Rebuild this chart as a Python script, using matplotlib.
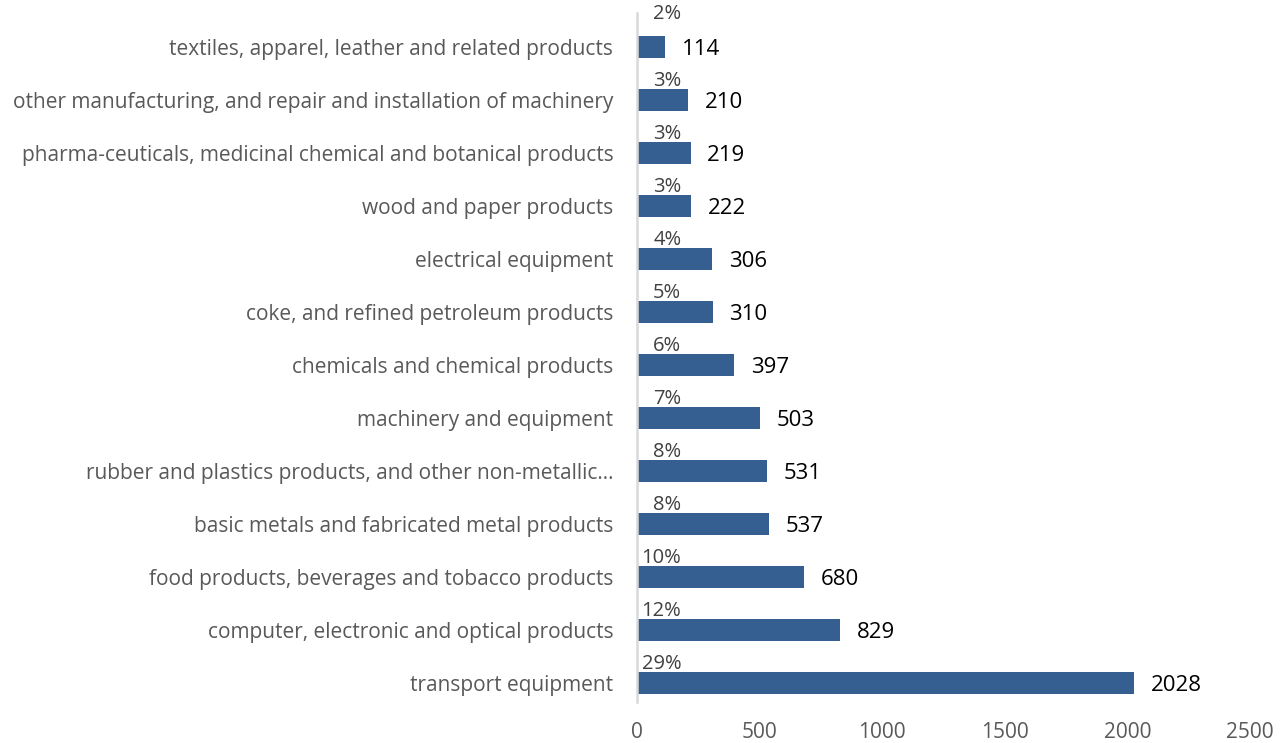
import matplotlib
matplotlib.use("Agg")
import matplotlib.pyplot as plt
from matplotlib import font_manager

categories = [
    "transport equipment",
    "computer, electronic and optical products",
    "food products, beverages and tobacco products",
    "basic metals and fabricated metal products",
    "rubber and plastics products, and other non-metallic\u2026",
    "machinery and equipment",
    "chemicals and chemical products",
    "coke, and refined petroleum products",
    "electrical equipment",
    "wood and paper products",
    "pharma-ceuticals, medicinal chemical and botanical products",
    "other manufacturing, and repair and installation of machinery",
    "textiles, apparel, leather and related products",
]
values = [2028, 829, 680, 537, 531, 503, 397, 310, 306, 222, 219, 210, 114]
shares = ["29%", "12%", "10%", "8%", "8%", "7%", "6%", "5%", "4%", "3%", "3%", "3%", "2%"]
xticks = [0, 500, 1000, 1500, 2000, 2500]

names = {f.name for f in font_manager.fontManager.ttflist}
fam = [f for f in ["Open Sans", "DejaVu Sans"] if f in names]
plt.rcParams["font.family"] = fam

fig = plt.figure(figsize=(12.84, 7.43), dpi=100)
ax = fig.add_axes([0.496, 0.045, 0.4775, 0.9273])

bar_color = "#365F91"
y = list(range(len(categories)))
ax.barh(y, values, height=0.4, color=bar_color)
ax.set_xlim(0, 2500)
ax.set_ylim(-0.5, len(categories) - 0.5)

ax.set_yticks(y)
ax.set_yticklabels(categories, fontsize=15, color="#595959")
ax.set_xticks(xticks)
ax.set_xticklabels([str(t) for t in xticks], fontsize=15, color="#595959")
ax.tick_params(axis="both", length=0)
ax.tick_params(axis="y", pad=17)
ax.tick_params(axis="x", pad=9)

for s in ["top", "right", "bottom", "left"]:
    ax.spines[s].set_visible(False)
ax.plot([0, 0], [0.011, 1.011], transform=ax.transAxes, color="#D9D9D9",
        lw=1.8, clip_on=False)

n = len(categories)
for i, (v, p) in enumerate(zip(values, shares)):
    ax.annotate(str(v), xy=(v, i), xytext=(12, -2), textcoords="offset points",
                ha="left", va="center", fontsize=16, color="black",
                annotation_clip=False)
    dy = 0.62 if i == n - 1 else 0.36
    ax.annotate(p, xy=(0, i + dy), xytext=(32, 0), textcoords="offset points",
                ha="right", va="center", fontsize=14.5, color="#404040",
                annotation_clip=False)

fig.savefig("out.png", dpi=100)
